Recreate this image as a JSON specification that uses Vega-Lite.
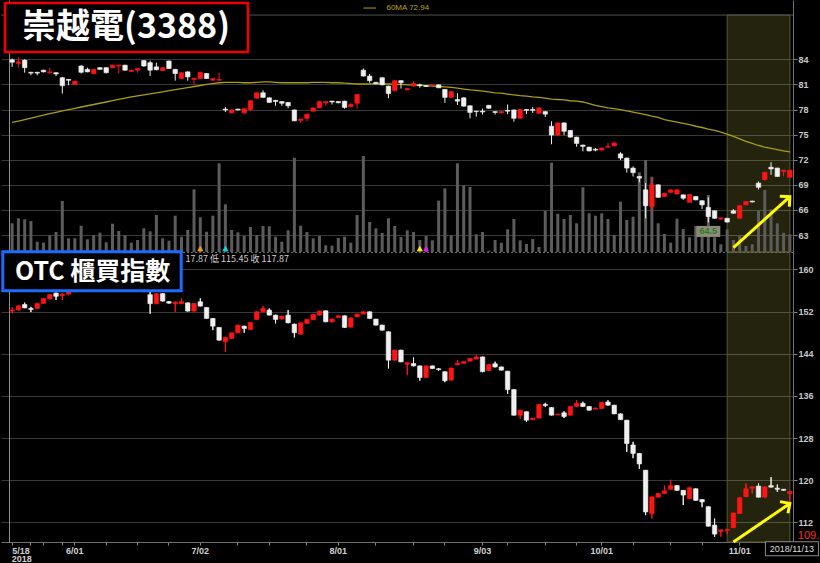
{
"$schema":"https://vega.github.io/schema/vega-lite/v6.json",
"background":"#000000",
"padding":0,
"spacing":0,
"bounds":"flush",
"config":{"view":{"stroke":null},"axis":{"labelFont":"Liberation Sans","titleFont":"Liberation Sans"}},
"datasets":{
"ev":[{"d":"2018-07-02","k":"a"},{"d":"2018-07-06","k":"b"},{"d":"2018-08-20","k":"c"},{"d":"2018-08-21","k":"d"}],
"k":[
{"d":"2018-05-18","o":83.95,"h":84.1,"l":83.1,"c":83.65,"v":287,"ma":76.45,"oo":152.1,"oh":152.8,"ol":151.65,"oc":152.3},
{"d":"2018-05-21","o":83.5,"h":84.25,"l":83.0,"c":83.7,"v":337,"ma":76.62,"oo":152.3,"oh":153.2,"ol":152.2,"oc":153.1},
{"d":"2018-05-22","o":83.9,"h":84.0,"l":82.4,"c":83.0,"v":327,"ma":76.8,"oo":153.35,"oh":153.7,"ol":152.65,"oc":152.7},
{"d":"2018-05-23","o":82.45,"h":82.5,"l":82.1,"c":82.35,"v":310,"ma":76.97,"oo":152.6,"oh":152.9,"ol":151.9,"oc":152.4},
{"d":"2018-05-24","o":82.45,"h":82.5,"l":82.1,"c":82.35,"v":103,"ma":77.15,"oo":152.6,"oh":153.6,"ol":152.55,"oc":153.55},
{"d":"2018-05-25","o":82.7,"h":82.75,"l":82.45,"c":82.5,"v":93,"ma":77.32,"oo":153.55,"oh":154.55,"ol":153.5,"oc":154.5},
{"d":"2018-05-28","o":82.4,"h":83.0,"l":82.3,"c":82.5,"v":167,"ma":77.5,"oo":154.4,"oh":155.3,"ol":154.35,"oc":155.25},
{"d":"2018-05-29","o":82.4,"h":82.45,"l":82.0,"c":82.25,"v":200,"ma":77.67,"oo":155.5,"oh":155.6,"ol":154.2,"oc":154.9},
{"d":"2018-05-30","o":81.8,"h":81.9,"l":79.9,"c":80.85,"v":510,"ma":77.85,"oo":155.0,"oh":155.5,"ol":154.2,"oc":155.3},
{"d":"2018-05-31","o":81.6,"h":81.65,"l":80.9,"c":81.5,"v":137,"ma":78.0,"oo":155.3,"oh":156.2,"ol":155.1,"oc":156.0},
{"d":"2018-06-01","o":81.0,"h":81.45,"l":80.95,"c":81.4,"v":137,"ma":78.15,"oo":156.0,"oh":157.0,"ol":155.8,"oc":156.8},
{"d":"2018-06-04","o":83.2,"h":83.3,"l":82.3,"c":82.45,"v":263,"ma":78.3,"oo":156.8,"oh":157.8,"ol":156.6,"oc":157.6},
{"d":"2018-06-05","o":82.8,"h":83.0,"l":82.45,"c":82.5,"v":127,"ma":78.45,"oo":157.6,"oh":157.9,"ol":156.8,"oc":157.0},
{"d":"2018-06-06","o":82.3,"h":82.85,"l":82.25,"c":82.8,"v":167,"ma":78.6,"oo":157.0,"oh":158.0,"ol":156.9,"oc":157.9},
{"d":"2018-06-07","o":83.0,"h":83.05,"l":82.75,"c":82.8,"v":193,"ma":78.75,"oo":157.9,"oh":158.2,"ol":157.1,"oc":157.3},
{"d":"2018-06-08","o":83.0,"h":83.05,"l":82.3,"c":82.4,"v":97,"ma":78.9,"oo":157.3,"oh":157.5,"ol":156.3,"oc":156.6},
{"d":"2018-06-11","o":83.0,"h":83.35,"l":82.95,"c":83.3,"v":283,"ma":79.05,"oo":156.6,"oh":157.7,"ol":156.4,"oc":157.5},
{"d":"2018-06-12","o":83.2,"h":83.35,"l":82.3,"c":83.3,"v":210,"ma":79.2,"oo":157.5,"oh":158.5,"ol":157.3,"oc":158.3},
{"d":"2018-06-13","o":83.3,"h":83.35,"l":82.65,"c":82.7,"v":167,"ma":79.35,"oo":158.3,"oh":158.6,"ol":157.4,"oc":157.6},
{"d":"2018-06-14","o":82.55,"h":82.75,"l":82.5,"c":82.7,"v":93,"ma":79.5,"oo":157.6,"oh":157.8,"ol":156.7,"oc":157.0},
{"d":"2018-06-15","o":82.7,"h":82.95,"l":82.4,"c":82.9,"v":120,"ma":79.62,"oo":157.0,"oh":157.2,"ol":156.0,"oc":156.3},
{"d":"2018-06-19","o":83.85,"h":83.9,"l":83.1,"c":83.2,"v":237,"ma":79.75,"oo":156.3,"oh":156.5,"ol":155.7,"oc":155.8},
{"d":"2018-06-20","o":83.6,"h":83.85,"l":82.0,"c":82.7,"v":207,"ma":79.87,"oo":155.2,"oh":156.0,"ol":151.6,"oc":153.5},
{"d":"2018-06-21","o":83.1,"h":83.6,"l":82.7,"c":82.75,"v":370,"ma":80.0,"oo":153.5,"oh":155.5,"ol":153.4,"oc":155.4},
{"d":"2018-06-22","o":82.65,"h":83.05,"l":82.6,"c":83.0,"v":137,"ma":80.12,"oo":155.4,"oh":155.5,"ol":153.9,"oc":154.0},
{"d":"2018-06-25","o":83.8,"h":83.85,"l":82.85,"c":82.9,"v":113,"ma":80.25,"oo":153.9,"oh":154.0,"ol":153.5,"oc":153.6},
{"d":"2018-06-26","o":82.8,"h":82.85,"l":81.45,"c":82.3,"v":363,"ma":80.37,"oo":153.5,"oh":153.9,"ol":151.96,"oc":153.8},
{"d":"2018-06-27","o":81.7,"h":82.45,"l":81.65,"c":82.4,"v":153,"ma":80.5,"oo":153.5,"oh":154.5,"ol":153.4,"oc":153.9},
{"d":"2018-06-28","o":82.5,"h":82.55,"l":81.45,"c":81.9,"v":220,"ma":80.62,"oo":153.65,"oh":153.7,"ol":152.0,"oc":152.1},
{"d":"2018-06-29","o":81.6,"h":81.8,"l":81.0,"c":81.75,"v":627,"ma":80.75,"oo":152.1,"oh":153.6,"ol":152.0,"oc":153.54},
{"d":"2018-07-02","o":81.7,"h":82.5,"l":81.65,"c":82.45,"v":347,"ma":80.87,"oo":153.86,"oh":154.5,"ol":153.0,"oc":153.04},
{"d":"2018-07-03","o":82.3,"h":82.35,"l":81.65,"c":81.7,"v":203,"ma":81.0,"oo":152.78,"oh":152.8,"ol":150.6,"oc":150.7},
{"d":"2018-07-04","o":81.5,"h":81.75,"l":81.45,"c":81.7,"v":363,"ma":81.1,"oo":150.7,"oh":150.75,"ol":148.48,"oc":149.24},
{"d":"2018-07-05","o":81.5,"h":82.4,"l":81.45,"c":81.6,"v":887,"ma":81.2,"oo":148.99,"oh":149.0,"ol":146.5,"oc":146.58},
{"d":"2018-07-06","o":78.05,"h":78.3,"l":77.7,"c":77.95,"v":477,"ma":81.25,"oo":146.27,"oh":147.2,"ol":144.37,"oc":147.09},
{"d":"2018-07-09","o":77.6,"h":78.0,"l":77.55,"c":77.95,"v":220,"ma":81.25,"oo":146.9,"oh":148.0,"ol":146.8,"oc":147.98},
{"d":"2018-07-10","o":78.05,"h":78.1,"l":77.9,"c":77.95,"v":197,"ma":81.25,"oo":147.98,"oh":149.5,"ol":147.9,"oc":149.43},
{"d":"2018-07-11","o":77.6,"h":78.15,"l":77.5,"c":78.1,"v":160,"ma":81.2,"oo":149.24,"oh":149.3,"ol":147.98,"oc":148.8},
{"d":"2018-07-12","o":78.0,"h":79.1,"l":77.8,"c":79.05,"v":250,"ma":81.2,"oo":148.61,"oh":150.0,"ol":148.5,"oc":149.93},
{"d":"2018-07-13","o":79.35,"h":80.05,"l":79.3,"c":80.0,"v":167,"ma":81.25,"oo":150.51,"oh":152.0,"ol":150.4,"oc":151.96},
{"d":"2018-07-16","o":80.0,"h":80.3,"l":79.4,"c":79.45,"v":260,"ma":81.3,"oo":151.96,"oh":153.04,"ol":151.9,"oc":152.6},
{"d":"2018-07-17","o":79.4,"h":79.45,"l":78.8,"c":78.85,"v":257,"ma":81.3,"oo":152.28,"oh":152.6,"ol":151.3,"oc":151.33},
{"d":"2018-07-18","o":79.1,"h":79.15,"l":78.45,"c":78.95,"v":153,"ma":81.25,"oo":151.33,"oh":151.4,"ol":149.75,"oc":150.51},
{"d":"2018-07-19","o":78.95,"h":79.0,"l":78.45,"c":78.75,"v":103,"ma":81.2,"oo":150.6,"oh":151.2,"ol":150.5,"oc":151.14},
{"d":"2018-07-20","o":78.85,"h":78.9,"l":78.15,"c":78.45,"v":217,"ma":81.2,"oo":151.33,"oh":152.28,"ol":149.8,"oc":149.87},
{"d":"2018-07-23","o":77.95,"h":78.0,"l":76.6,"c":76.65,"v":943,"ma":81.2,"oo":149.62,"oh":149.7,"ol":147.09,"oc":147.98},
{"d":"2018-07-24","o":76.7,"h":76.9,"l":76.4,"c":76.85,"v":263,"ma":81.2,"oo":147.72,"oh":149.9,"ol":147.6,"oc":149.87},
{"d":"2018-07-25","o":76.95,"h":77.5,"l":76.6,"c":77.45,"v":200,"ma":81.2,"oo":149.75,"oh":150.6,"ol":149.7,"oc":150.51},
{"d":"2018-07-26","o":77.8,"h":78.25,"l":77.75,"c":78.2,"v":137,"ma":81.25,"oo":150.45,"oh":151.5,"ol":150.4,"oc":151.45},
{"d":"2018-07-27","o":78.2,"h":79.0,"l":78.15,"c":78.95,"v":160,"ma":81.25,"oo":151.33,"oh":152.15,"ol":151.3,"oc":152.09},
{"d":"2018-07-30","o":78.8,"h":79.0,"l":78.5,"c":78.95,"v":67,"ma":81.25,"oo":152.15,"oh":152.2,"ol":150.0,"oc":150.06},
{"d":"2018-07-31","o":79.0,"h":79.05,"l":78.6,"c":78.9,"v":63,"ma":81.2,"oo":150.06,"oh":150.65,"ol":149.9,"oc":150.6},
{"d":"2018-08-01","o":78.95,"h":79.0,"l":78.75,"c":78.8,"v":140,"ma":81.2,"oo":150.9,"oh":151.3,"ol":150.85,"oc":151.2},
{"d":"2018-08-02","o":79.0,"h":79.05,"l":78.1,"c":78.25,"v":153,"ma":81.15,"oo":151.2,"oh":151.25,"ol":148.9,"oc":148.99},
{"d":"2018-08-03","o":78.35,"h":78.8,"l":78.3,"c":78.6,"v":93,"ma":81.1,"oo":149.05,"oh":150.85,"ol":149.0,"oc":150.8},
{"d":"2018-08-06","o":78.75,"h":79.85,"l":78.1,"c":79.8,"v":370,"ma":81.05,"oo":151.0,"oh":151.6,"ol":150.95,"oc":151.52},
{"d":"2018-08-07","o":82.7,"h":82.9,"l":81.95,"c":82.0,"v":960,"ma":81.05,"oo":151.52,"oh":152.05,"ol":151.5,"oc":151.96},
{"d":"2018-08-08","o":82.0,"h":82.25,"l":81.2,"c":81.45,"v":300,"ma":81.05,"oo":151.96,"oh":152.0,"ol":150.6,"oc":150.7},
{"d":"2018-08-09","o":81.25,"h":81.3,"l":81.0,"c":81.1,"v":237,"ma":81.05,"oo":150.57,"oh":150.6,"ol":149.4,"oc":149.43},
{"d":"2018-08-10","o":81.8,"h":81.85,"l":80.9,"c":80.95,"v":190,"ma":81.05,"oo":149.43,"oh":149.5,"ol":148.4,"oc":148.48},
{"d":"2018-08-13","o":80.8,"h":80.85,"l":79.35,"c":79.9,"v":337,"ma":81.05,"oo":148.17,"oh":148.2,"ol":141.21,"oc":142.79},
{"d":"2018-08-14","o":80.25,"h":81.5,"l":80.2,"c":81.45,"v":260,"ma":81.0,"oo":142.79,"oh":144.75,"ol":142.7,"oc":144.69},
{"d":"2018-08-15","o":81.45,"h":81.5,"l":80.5,"c":81.2,"v":150,"ma":81.0,"oo":144.69,"oh":144.75,"ol":142.4,"oc":142.47},
{"d":"2018-08-16","o":80.35,"h":80.55,"l":80.3,"c":80.5,"v":217,"ma":80.95,"oo":142.0,"oh":142.35,"ol":139.94,"oc":142.3},
{"d":"2018-08-17","o":80.8,"h":81.35,"l":80.75,"c":81.1,"v":200,"ma":80.95,"oo":142.16,"oh":143.3,"ol":141.6,"oc":141.7},
{"d":"2018-08-20","o":80.95,"h":81.1,"l":80.6,"c":80.85,"v":120,"ma":80.9,"oo":141.7,"oh":141.75,"ol":138.9,"oc":139.5},
{"d":"2018-08-21","o":80.85,"h":80.9,"l":80.7,"c":80.75,"v":160,"ma":80.85,"oo":139.5,"oh":141.75,"ol":139.4,"oc":141.7},
{"d":"2018-08-22","o":80.85,"h":81.0,"l":80.8,"c":80.95,"v":117,"ma":80.8,"oo":141.7,"oh":141.75,"ol":141.1,"oc":141.2},
{"d":"2018-08-23","o":80.95,"h":81.0,"l":80.55,"c":80.6,"v":513,"ma":80.75,"oo":141.15,"oh":141.3,"ol":140.8,"oc":141.0},
{"d":"2018-08-24","o":80.4,"h":80.45,"l":78.8,"c":79.45,"v":637,"ma":80.7,"oo":140.6,"oh":140.65,"ol":138.6,"oc":138.9},
{"d":"2018-08-27","o":79.45,"h":80.2,"l":79.4,"c":80.15,"v":167,"ma":80.65,"oo":139.0,"oh":141.35,"ol":138.95,"oc":141.3},
{"d":"2018-08-28","o":79.2,"h":79.95,"l":78.55,"c":79.0,"v":887,"ma":80.55,"oo":141.9,"oh":142.8,"ol":141.85,"oc":142.2},
{"d":"2018-08-29","o":79.4,"h":79.45,"l":78.35,"c":78.4,"v":670,"ma":80.45,"oo":142.2,"oh":142.55,"ol":142.15,"oc":142.5},
{"d":"2018-08-30","o":78.45,"h":78.5,"l":76.95,"c":77.65,"v":650,"ma":80.35,"oo":142.6,"oh":143.15,"ol":142.55,"oc":143.1},
{"d":"2018-08-31","o":77.8,"h":77.85,"l":77.15,"c":77.75,"v":177,"ma":80.3,"oo":143.0,"oh":143.7,"ol":142.95,"oc":143.4},
{"d":"2018-09-03","o":77.8,"h":78.1,"l":77.4,"c":77.7,"v":200,"ma":80.2,"oo":143.4,"oh":143.45,"ol":140.5,"oc":140.6},
{"d":"2018-09-04","o":78.5,"h":78.55,"l":78.1,"c":78.15,"v":13,"ma":80.1,"oo":140.8,"oh":142.0,"ol":140.75,"oc":141.95},
{"d":"2018-09-05","o":77.75,"h":77.8,"l":77.4,"c":77.65,"v":120,"ma":80.0,"oo":142.1,"oh":142.5,"ol":141.4,"oc":141.5},
{"d":"2018-09-06","o":77.6,"h":77.8,"l":77.55,"c":77.75,"v":93,"ma":79.95,"oo":141.5,"oh":141.55,"ol":140.85,"oc":140.9},
{"d":"2018-09-07","o":77.9,"h":78.6,"l":77.45,"c":77.8,"v":227,"ma":79.85,"oo":140.7,"oh":140.75,"ol":136.4,"oc":137.2},
{"d":"2018-09-10","o":77.95,"h":78.0,"l":76.55,"c":76.95,"v":330,"ma":79.75,"oo":137.2,"oh":137.25,"ol":132.3,"oc":132.35},
{"d":"2018-09-11","o":76.95,"h":78.05,"l":76.9,"c":78.0,"v":117,"ma":79.65,"oo":132.35,"oh":133.35,"ol":131.7,"oc":133.3},
{"d":"2018-09-12","o":78.0,"h":78.05,"l":77.45,"c":77.9,"v":80,"ma":79.6,"oo":133.0,"oh":133.05,"ol":131.1,"oc":131.4},
{"d":"2018-09-13","o":78.0,"h":78.3,"l":77.6,"c":77.9,"v":130,"ma":79.5,"oo":131.5,"oh":131.85,"ol":131.45,"oc":131.8},
{"d":"2018-09-14","o":77.55,"h":78.25,"l":77.5,"c":78.2,"v":50,"ma":79.45,"oo":131.8,"oh":134.45,"ol":131.75,"oc":134.4},
{"d":"2018-09-17","o":77.75,"h":77.8,"l":77.1,"c":77.45,"v":410,"ma":79.35,"oo":134.4,"oh":134.7,"ol":133.9,"oc":134.2},
{"d":"2018-09-18","o":76.0,"h":76.6,"l":73.85,"c":74.95,"v":893,"ma":79.25,"oo":133.8,"oh":133.85,"ol":132.3,"oc":132.35},
{"d":"2018-09-19","o":74.95,"h":76.45,"l":74.9,"c":76.4,"v":383,"ma":79.2,"oo":132.4,"oh":132.6,"ol":132.35,"oc":132.55},
{"d":"2018-09-20","o":76.4,"h":76.45,"l":74.95,"c":75.4,"v":330,"ma":79.15,"oo":132.8,"oh":133.1,"ol":131.8,"oc":132.1},
{"d":"2018-09-21","o":75.5,"h":75.55,"l":74.65,"c":74.7,"v":370,"ma":79.05,"oo":132.35,"oh":134.05,"ol":132.3,"oc":134.0},
{"d":"2018-09-25","o":74.7,"h":74.75,"l":73.55,"c":73.95,"v":287,"ma":79.0,"oo":134.0,"oh":135.2,"ol":133.95,"oc":134.6},
{"d":"2018-09-26","o":73.75,"h":73.8,"l":73.0,"c":73.6,"v":647,"ma":78.9,"oo":134.6,"oh":134.9,"ol":133.95,"oc":134.0},
{"d":"2018-09-27","o":73.5,"h":73.55,"l":73.0,"c":73.05,"v":387,"ma":78.7,"oo":134.0,"oh":134.05,"ol":133.25,"oc":133.3},
{"d":"2018-09-28","o":73.25,"h":73.4,"l":73.0,"c":73.15,"v":363,"ma":78.5,"oo":133.5,"oh":133.75,"ol":133.45,"oc":133.7},
{"d":"2018-10-01","o":73.15,"h":73.45,"l":73.1,"c":73.4,"v":387,"ma":78.35,"oo":133.6,"oh":134.85,"ol":133.55,"oc":134.8},
{"d":"2018-10-02","o":73.5,"h":74.0,"l":73.45,"c":73.6,"v":330,"ma":78.2,"oo":134.85,"oh":135.2,"ol":134.2,"oc":134.25},
{"d":"2018-10-03","o":73.65,"h":74.2,"l":73.6,"c":74.0,"v":170,"ma":78.1,"oo":134.25,"oh":134.3,"ol":132.55,"oc":132.6},
{"d":"2018-10-04","o":72.7,"h":72.9,"l":71.95,"c":72.2,"v":503,"ma":78.0,"oo":132.6,"oh":132.65,"ol":131.45,"oc":131.5},
{"d":"2018-10-05","o":72.2,"h":72.25,"l":70.45,"c":71.0,"v":320,"ma":77.85,"oo":131.4,"oh":131.45,"ol":125.4,"oc":126.98},
{"d":"2018-10-08","o":71.0,"h":71.2,"l":70.0,"c":70.45,"v":353,"ma":77.7,"oo":126.7,"oh":127.3,"ol":124.2,"oc":125.1},
{"d":"2018-10-09","o":70.0,"h":70.05,"l":69.3,"c":69.8,"v":797,"ma":77.55,"oo":125.1,"oh":125.15,"ol":122.2,"oc":123.1},
{"d":"2018-10-11","o":68.4,"h":69.2,"l":65.0,"c":66.5,"v":920,"ma":77.4,"oo":121.92,"oh":121.95,"ol":113.4,"oc":114.0},
{"d":"2018-10-12","o":66.4,"h":69.85,"l":65.9,"c":69.0,"v":753,"ma":77.2,"oo":113.69,"oh":116.9,"ol":112.75,"oc":116.86},
{"d":"2018-10-15","o":69.0,"h":69.05,"l":67.45,"c":67.5,"v":287,"ma":77.05,"oo":116.8,"oh":117.55,"ol":116.75,"oc":117.5},
{"d":"2018-10-16","o":67.6,"h":68.05,"l":67.55,"c":68.0,"v":180,"ma":76.8,"oo":117.5,"oh":119.0,"ol":117.45,"oc":118.0},
{"d":"2018-10-17","o":68.1,"h":68.45,"l":68.05,"c":68.4,"v":93,"ma":76.65,"oo":118.3,"oh":120.1,"ol":118.25,"oc":119.0},
{"d":"2018-10-18","o":67.9,"h":68.45,"l":67.85,"c":68.4,"v":333,"ma":76.5,"oo":119.0,"oh":119.05,"ol":118.05,"oc":118.1},
{"d":"2018-10-19","o":67.8,"h":67.85,"l":67.2,"c":67.4,"v":230,"ma":76.35,"oo":118.1,"oh":118.15,"ol":115.3,"oc":117.2},
{"d":"2018-10-22","o":66.9,"h":67.9,"l":66.85,"c":67.85,"v":147,"ma":76.2,"oo":116.5,"oh":118.65,"ol":116.45,"oc":118.6},
{"d":"2018-10-23","o":67.6,"h":67.65,"l":67.15,"c":67.2,"v":260,"ma":76.0,"oo":118.4,"oh":118.45,"ol":116.15,"oc":116.2},
{"d":"2018-10-24","o":67.1,"h":67.15,"l":66.1,"c":66.6,"v":177,"ma":75.85,"oo":116.35,"oh":116.4,"ol":114.9,"oc":115.9},
{"d":"2018-10-25","o":66.3,"h":67.5,"l":64.5,"c":65.2,"v":570,"ma":75.65,"oo":115.0,"oh":115.05,"ol":111.25,"oc":111.3},
{"d":"2018-10-26","o":65.9,"h":65.95,"l":64.95,"c":65.0,"v":147,"ma":75.5,"oo":111.5,"oh":112.75,"ol":109.27,"oc":109.8},
{"d":"2018-10-29","o":64.9,"h":65.1,"l":64.85,"c":65.05,"v":77,"ma":75.3,"oo":110.3,"oh":110.65,"ol":109.3,"oc":110.6},
{"d":"2018-10-30","o":65.0,"h":65.05,"l":64.5,"c":64.55,"v":227,"ma":75.05,"oo":110.5,"oh":110.75,"ol":109.8,"oc":110.7},
{"d":"2018-10-31","o":65.9,"h":66.1,"l":65.55,"c":65.6,"v":120,"ma":74.8,"oo":111.0,"oh":113.85,"ol":110.95,"oc":113.8},
{"d":"2018-11-01","o":65.0,"h":66.55,"l":64.95,"c":66.5,"v":160,"ma":74.5,"oo":113.7,"oh":116.75,"ol":113.65,"oc":116.7},
{"d":"2018-11-02","o":66.6,"h":67.05,"l":66.55,"c":67.0,"v":60,"ma":74.2,"oo":116.9,"oh":119.4,"ol":116.85,"oc":118.4},
{"d":"2018-11-05","o":67.05,"h":67.1,"l":66.9,"c":66.95,"v":77,"ma":73.95,"oo":118.5,"oh":118.8,"ol":117.5,"oc":118.75},
{"d":"2018-11-06","o":69.2,"h":69.4,"l":68.45,"c":68.7,"v":410,"ma":73.7,"oo":118.9,"oh":119.4,"ol":116.75,"oc":116.8},
{"d":"2018-11-07","o":69.6,"h":70.55,"l":69.55,"c":70.5,"v":620,"ma":73.5,"oo":116.8,"oh":118.8,"ol":116.75,"oc":118.75},
{"d":"2018-11-08","o":71.1,"h":71.7,"l":70.2,"c":70.9,"v":427,"ma":73.35,"oo":119.0,"oh":120.6,"ol":118.65,"oc":118.7},
{"d":"2018-11-09","o":71.0,"h":71.05,"l":69.95,"c":70.0,"v":287,"ma":73.2,"oo":118.5,"oh":119.2,"ol":117.8,"oc":118.3},
{"d":"2018-11-12","o":70.6,"h":70.8,"l":70.0,"c":70.75,"v":193,"ma":73.05,"oo":118.3,"oh":118.35,"ol":118.05,"oc":118.1},
{"d":"2018-11-13","o":69.9,"h":70.8,"l":69.85,"c":70.75,"v":177,"ma":72.94,"oo":117.5,"oh":117.87,"ol":115.45,"oc":117.87}
]},
"vconcat":[
{
"width":792,"height":252,
"resolve":{"scale":{"y":"independent"}},
"layer":[
{"data":{"name":"k"},
 "layer":[
  {"data":{"values":[{}]},"mark":{"type":"rect","fill":"#ffff66","fillOpacity":0.14,"stroke":"#5a582c","strokeWidth":1},
   "encoding":{"x":{"datum":"2018-10-30","type":"ordinal","bandPosition":0.5,"scale":{"type":"band","paddingInner":0,"paddingOuter":0.6378,"align":1},"axis":null},"x2":{"datum":"2018-11-13","bandPosition":0.5},
   "y":{"datum":2370,"type":"quantitative","scale":{"domain":[0,2520],"nice":false},"axis":null},"y2":{"datum":0}}},
  {"mark":{"type":"bar","width":3,"color":"#5c5c5c"},
   "encoding":{"x":{"field":"d","type":"ordinal","scale":{"type":"band","paddingInner":0,"paddingOuter":0.6378,"align":1},"axis":null},
   "y":{"field":"v","type":"quantitative","scale":{"domain":[0,2520],"nice":false},"axis":null}}},
  {"data":{"name":"ev"},"mark":{"type":"point","shape":"triangle-up","filled":true,"size":40,"opacity":1},
   "encoding":{"x":{"field":"d","type":"ordinal","axis":null},"y":{"datum":35,"type":"quantitative","axis":null},
   "color":{"field":"k","type":"nominal","scale":{"domain":["a","b","c","d"],"range":["#f0a000","#00d8e0","#f0f000","#e020e0"]},"legend":null}}}
 ]},
{"data":{"name":"k"},
 "resolve":{"axis":{"y":"independent"}},
 "layer":[
  {"data":{"values":[{}]},"mark":{"type":"rule","color":"#505050","strokeWidth":1},
   "encoding":{"y":{"datum":89.29,"type":"quantitative","scale":{"domain":[60.97,91.09],"nice":false,"zero":false},
   "axis":{"orient":"left","offset":-8,"labels":false,"ticks":false,"grid":false,"domain":true,"domainColor":"#8c8c8c","title":null}}}},
  {"mark":{"type":"line","color":"#a89e10","strokeWidth":1.3},
   "encoding":{"x":{"field":"d","type":"ordinal","axis":null},
   "y":{"field":"ma","type":"quantitative","scale":{"domain":[60.97,91.09],"nice":false,"zero":false},
   "axis":{"orient":"right","values":[63,66,69,72,75,78,81,84],"grid":true,"gridColor":"#383838","domain":true,"domainColor":"#707070","tickSize":4,"tickColor":"#808080","labelColor":"#c8c8c8","labelFontSize":9,"labelFontWeight":"bold","labelPadding":1,"title":null}}}},
  {"mark":{"type":"rule","strokeWidth":1},
   "encoding":{"x":{"field":"d","type":"ordinal","axis":null},"y":{"field":"l","type":"quantitative","axis":null},"y2":{"field":"h"},
   "color":{"condition":{"test":"datum.c >= datum.o","value":"#ff1414"},"value":"#f0f0f0"}}},
  {"mark":{"type":"bar","width":4.5,"strokeWidth":0.6},
   "encoding":{"x":{"field":"d","type":"ordinal","axis":null},"y":{"field":"o","type":"quantitative","axis":null},"y2":{"field":"c"},
   "color":{"condition":{"test":"datum.c >= datum.o","value":"#ff1414"},"value":"#f0f0f0"},
   "stroke":{"condition":{"test":"datum.c >= datum.o","value":"#ff1414"},"value":"#f0f0f0"}}},
  {"data":{"values":[{}]},"mark":{"type":"point","shape":"M-1,-0.46H1V0.46H-1Z","size":576,"filled":true,"fill":"#8b8b78","opacity":1},
   "encoding":{"x":{"datum":"2018-10-25","type":"ordinal","axis":null},"y":{"datum":63.43,"type":"quantitative","axis":null}}},
  {"data":{"values":[{}]},"mark":{"type":"text","text":"64.5","font":"Liberation Sans","fontSize":9,"fontWeight":"bold","color":"#2d7a2d","align":"center","baseline":"middle"},
   "encoding":{"x":{"datum":"2018-10-25","type":"ordinal","axis":null},"y":{"datum":63.43,"type":"quantitative","axis":null}}},
  {"data":{"values":[{}]},"mark":{"type":"rule","color":"#ffff00","strokeWidth":3},
   "encoding":{"x":{"datum":"2018-10-31","type":"ordinal","axis":null},"x2":{"datum":"2018-11-13"},"y":{"datum":61.49,"type":"quantitative","axis":null},"y2":{"datum":67.58}}},
  {"data":{"values":[{}]},"mark":{"type":"point","shape":"M-1,1L0,0L1,1","size":200,"filled":false,"stroke":"#ffff00","strokeWidth":3,"opacity":1,"angle":48},
   "encoding":{"x":{"datum":"2018-11-13","type":"ordinal","axis":null},"y":{"datum":67.58,"type":"quantitative","axis":null}}},
  {"data":{"values":[{}]},"mark":{"type":"rule","color":"#b0a400","strokeWidth":1},
   "encoding":{"x":{"datum":"2018-08-07","type":"ordinal","axis":null},"x2":{"datum":"2018-08-09"},"y":{"datum":90.13,"type":"quantitative","axis":null}}},
  {"data":{"values":[{}]},"mark":{"type":"text","text":"60MA 72.94","font":"Liberation Sans","fontSize":8,"color":"#b8a800","align":"left","baseline":"middle","dx":-2},
   "encoding":{"x":{"datum":"2018-08-13","type":"ordinal","axis":null},"y":{"datum":90.13,"type":"quantitative","axis":null}}},
  {"data":{"values":[{}]},"mark":{"type":"point","shape":"M-1,-0.2101H1V0.2101H-1Z","size":60319,"filled":true,"fill":"#f00000","opacity":1},
   "encoding":{"x":{"datum":"2018-06-13","type":"ordinal","bandPosition":0.733,"axis":null},"y":{"datum":87.8,"type":"quantitative","axis":null}}},
  {"data":{"values":[{}]},"mark":{"type":"point","shape":"M-1,-0.193H1V0.193H-1Z","size":57792,"filled":true,"fill":"#000000","opacity":1},
   "encoding":{"x":{"datum":"2018-06-13","type":"ordinal","bandPosition":0.733,"axis":null},"y":{"datum":87.8,"type":"quantitative","axis":null}}},
  {"data":{"values":[{}]},"mark":{"type":"text","text":"崇越電(3388)","font":"Noto Sans CJK TC","fontSize":34,"fontWeight":"bold","color":"#ffffff","align":"center","baseline":"middle","dx":1},
   "encoding":{"x":{"datum":"2018-06-13","type":"ordinal","axis":null},"y":{"datum":87.75,"type":"quantitative","axis":null}}}
 ]}
]
},
{
"width":792,"height":290,
"data":{"name":"k"},
"resolve":{"axis":{"y":"independent"}},
"layer":[
 {"mark":{"type":"rule","strokeWidth":1},
  "encoding":{"x":{"field":"d","type":"ordinal","scale":{"type":"band","paddingInner":0,"paddingOuter":0.6378,"align":1},
  "axis":{"orient":"bottom","values":["2018-05-18","2018-05-23","2018-05-25","2018-05-30","2018-06-01","2018-06-08","2018-06-15","2018-06-25","2018-07-02","2018-07-10","2018-07-17","2018-07-25","2018-08-01","2018-08-09","2018-08-17","2018-08-24","2018-09-03","2018-09-07","2018-09-17","2018-09-25","2018-10-01","2018-10-08","2018-10-17","2018-10-24","2018-11-01","2018-11-08"],
  "labelExpr":"datum.value == '2018-05-18' ? '5/18' : datum.value == '2018-06-01' ? '6/01' : datum.value == '2018-07-02' ? '7/02' : datum.value == '2018-08-01' ? '8/01' : datum.value == '2018-09-03' ? '9/03' : datum.value == '2018-10-01' ? '10/01' : datum.value == '2018-11-01' ? '11/01' : ''",
  "domain":true,"domainColor":"#707070","ticks":true,"tickSize":3,"tickColor":"#8a8a8a","labelColor":"#d0d0d0","labelFontSize":9,"labelFontWeight":"bold","labelPadding":1,"labelAngle":0,"labelFlush":12,"labelOverlap":false,"grid":false,"title":null}},
  "y":{"field":"ol","type":"quantitative","scale":{"domain":[108.3,163.3],"nice":false,"zero":false},
  "axis":{"orient":"right","values":[112,120,128,136,144,152,160],"grid":true,"gridColor":"#383838","domain":true,"domainColor":"#707070","tickSize":4,"tickColor":"#808080","labelColor":"#c8c8c8","labelFontSize":9,"labelFontWeight":"bold","labelPadding":1,"title":null}},
  "y2":{"field":"oh"},
  "color":{"condition":{"test":"datum.oc >= datum.oo","value":"#ff1414"},"value":"#f0f0f0"}}},
 {"data":{"values":[{}]},"mark":{"type":"rect","fill":"#ffff66","fillOpacity":0.14,"stroke":"#5a582c","strokeWidth":1},
  "encoding":{"x":{"datum":"2018-10-30","type":"ordinal","bandPosition":0.5},"x2":{"datum":"2018-11-13","bandPosition":0.5},
  "y":{"datum":163.3,"type":"quantitative",
  "axis":{"orient":"left","offset":-8,"labels":false,"ticks":false,"grid":false,"domain":true,"domainColor":"#8c8c8c","title":null}},"y2":{"datum":108.3}}},
 {"data":{"values":[{}]},"mark":{"type":"rule","color":"#6a6a6a","strokeWidth":1,"strokeDash":[2,2]},
  "encoding":{"y":{"datum":163.2,"type":"quantitative","axis":null}}},
 {"mark":{"type":"rule","strokeWidth":1},
  "encoding":{"x":{"field":"d","type":"ordinal"},"y":{"field":"ol","type":"quantitative","axis":null},"y2":{"field":"oh"},
  "color":{"condition":{"test":"datum.oc >= datum.oo","value":"#ff1414"},"value":"#f0f0f0"}}},
 {"mark":{"type":"bar","width":4.5,"strokeWidth":0.6},
  "encoding":{"x":{"field":"d","type":"ordinal"},"y":{"field":"oo","type":"quantitative","axis":null},"y2":{"field":"oc"},
  "color":{"condition":{"test":"datum.oc >= datum.oo","value":"#ff1414"},"value":"#f0f0f0"},
  "stroke":{"condition":{"test":"datum.oc >= datum.oo","value":"#ff1414"},"value":"#f0f0f0"}}},
 {"data":{"values":[{}]},"mark":{"type":"text","text":"17.87 低 115.45 收 117.87","font":"Noto Sans CJK TC","fontSize":9,"color":"#cfcfcf","align":"right","baseline":"middle","dx":1},
  "encoding":{"x":{"datum":"2018-07-20","type":"ordinal"},"y":{"datum":161.9,"type":"quantitative","axis":null}}},
 {"data":{"values":[{}]},"mark":{"type":"point","shape":"M-1,-0.2328H1V0.2328H-1Z","size":32906,"filled":true,"fill":"#1a6cff","opacity":1},
  "encoding":{"x":{"datum":"2018-06-06","type":"ordinal","bandPosition":0.233},"y":{"datum":159.65,"type":"quantitative","axis":null}}},
 {"data":{"values":[{}]},"mark":{"type":"point","shape":"M-1,-0.2066H1V0.2066H-1Z","size":30764,"filled":true,"fill":"#000000","opacity":1},
  "encoding":{"x":{"datum":"2018-06-06","type":"ordinal","bandPosition":0.233},"y":{"datum":159.65,"type":"quantitative","axis":null}}},
 {"data":{"values":[{}]},"mark":{"type":"text","text":"OTC  櫃買指數","font":"Noto Sans CJK TC","fontSize":25,"fontWeight":"bold","color":"#ffffff","align":"center","baseline":"middle","dx":-1},
  "encoding":{"x":{"datum":"2018-06-06","type":"ordinal"},"y":{"datum":159.55,"type":"quantitative","axis":null}}},
 {"data":{"values":[{}]},"mark":{"type":"rule","color":"#ffff00","strokeWidth":3},
  "encoding":{"x":{"datum":"2018-10-31","type":"ordinal"},"x2":{"datum":"2018-11-13"},"y":{"datum":108.3,"type":"quantitative","axis":null},"y2":{"datum":115.6}}},
 {"data":{"values":[{}]},"mark":{"type":"point","shape":"M-1,1L0,0L1,1","size":200,"filled":false,"stroke":"#ffff00","strokeWidth":3,"opacity":1,"angle":56},
  "encoding":{"x":{"datum":"2018-11-13","type":"ordinal"},"y":{"datum":115.6,"type":"quantitative","axis":null}}},
 {"data":{"values":[{}]},"mark":{"type":"text","text":"109.6","font":"Liberation Sans","fontSize":11,"color":"#ff2a2a","align":"left","baseline":"middle","dx":8,"limit":23,"ellipsis":"\u200b"},
  "encoding":{"x":{"datum":"2018-11-13","type":"ordinal"},"y":{"datum":109.39,"type":"quantitative","axis":null}}},
 {"data":{"values":[{}]},"mark":{"type":"point","shape":"M-1,-0.278H1V0.278H-1Z","size":2916,"filled":true,"fill":"#8a8a8a","opacity":1},
  "encoding":{"x":{"datum":"2018-11-13","type":"ordinal","bandPosition":0.83},"y":{"datum":107.02,"type":"quantitative","axis":null}}},
 {"data":{"values":[{}]},"mark":{"type":"point","shape":"M-1,-0.25H1V0.25H-1Z","size":2704,"filled":true,"fill":"#000000","opacity":1},
  "encoding":{"x":{"datum":"2018-11-13","type":"ordinal","bandPosition":0.83},"y":{"datum":107.02,"type":"quantitative","axis":null}}},
 {"data":{"values":[{}]},"mark":{"type":"text","text":"2018/11/13","font":"Liberation Sans","fontSize":9,"color":"#dddddd","align":"center","baseline":"middle","dx":2},
  "encoding":{"x":{"datum":"2018-11-13","type":"ordinal"},"y":{"datum":107.02,"type":"quantitative","axis":null}}},
 {"data":{"values":[{}]},"mark":{"type":"text","text":"2018","font":"Liberation Sans","fontSize":9,"fontWeight":"bold","color":"#d0d0d0","align":"left","baseline":"middle","dx":-0.5},
  "encoding":{"x":{"datum":"2018-05-18","type":"ordinal"},"y":{"datum":105.0,"type":"quantitative","axis":null}}}
]
}
]
}
